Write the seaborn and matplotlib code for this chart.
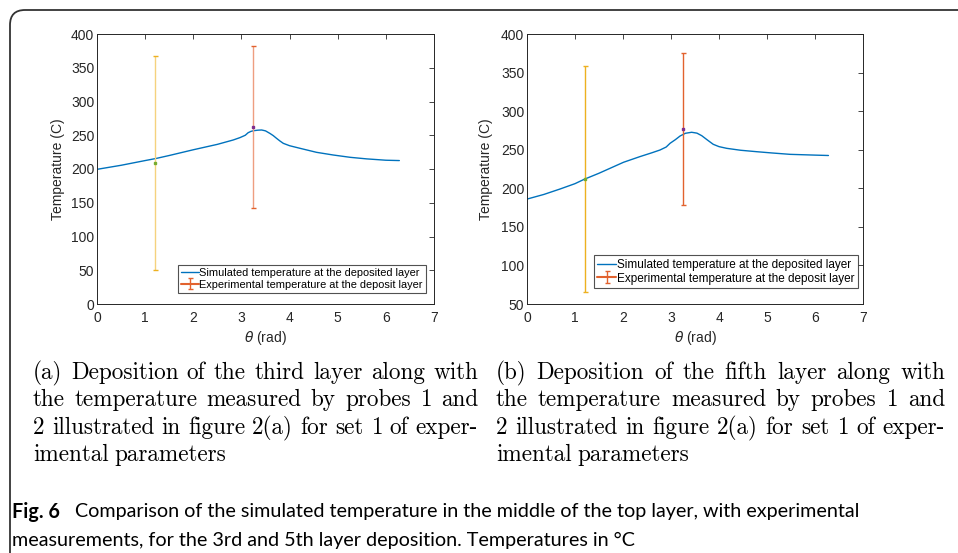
import numpy as np
import pandas as pd
import seaborn as sns
import matplotlib
matplotlib.use('Agg')
from matplotlib import pyplot as plt
from matplotlib.patches import FancyBboxPatch
from matplotlib.transforms import IdentityTransform

# (a) third layer - simulated curve
theta_a = [0.0, 0.5, 1.0, 1.22, 1.5, 2.0, 2.5, 2.83, 2.97, 3.08, 3.14, 3.2, 3.26, 3.34, 3.42,
           3.5, 3.59, 3.66, 3.73, 3.8, 3.87, 4.0, 4.22, 4.56, 4.91, 5.26, 5.6, 6.0, 6.28]
temp_a = [199.5, 205.5, 212.5, 215.5, 220, 228.5, 236.5, 243, 246.5, 250, 253.8, 255.8, 256.8, 257.5, 257.8,
          256.5, 252.8, 249.5, 245.4, 241.5, 238, 234.5, 230.6, 224.7, 220.7, 217.3, 215, 213, 212.5]

# (b) fifth layer
theta_b = [0.0, 0.35, 0.69, 1.0, 1.19, 1.5, 2.01, 2.35, 2.6, 2.77, 2.9, 2.98, 3.09, 3.19, 3.3,
           3.43, 3.54, 3.64, 3.76, 3.88, 4.0, 4.16, 4.45, 4.79, 5.1, 5.48, 6.0, 6.28]
temp_b = [186, 192, 199.1, 206, 211.6, 219.5, 233.7, 241, 246, 249.6, 253.5, 258.3, 263, 267.8, 271.3,
          272.6, 271.5, 268.2, 262.5, 257, 254, 251.8, 249.3, 247.4, 245.8, 244, 243, 242.5]

# experimental probes (centre, lower end, upper end)
probe_theta = [1.2, 3.25]
probe_a = [208.5, 262.0]
probe_a_lo = [50.0, 141.5]
probe_a_hi = [367.0, 381.5]
probe_b = [211.8, 276.6]
probe_b_lo = [65.0, 178.6]
probe_b_hi = [358.6, 375.0]

lab_sim = 'Simulated temperature at the deposited layer'
lab_exp = 'Experimental temperature at the deposit layer'

cap_a = ['(a) Deposition of the third layer along with',
         'the temperature measured by probes 1 and',
         '2 illustrated in figure 2(a) for set 1 of exper-',
         'imental parameters']
cap_b = ['(b) Deposition of the fifth layer along with',
         'the temperature measured by probes 1 and',
         '2 illustrated in figure 2(a) for set 1 of exper-',
         'imental parameters']
fig_cap1 = 'Comparison of the simulated temperature in the middle of the top layer, with experimental'
fig_cap2 = 'measurements, for the 3rd and 5th layer deposition. Temperatures in °C'

blue = '#0072BD'
orange = '#E2622E'
yellow = '#EDB120'
green = '#77AC30'
purple = '#7E2F8E'
axcol = '#262626'

sns.set_style('white')
plt.rcParams['font.family'] = ['Liberation Sans', 'DejaVu Sans']
plt.rcParams['mathtext.fontset'] = 'dejavusans'
plt.rcParams['text.color'] = 'black'

W, H = 958, 553
fig = plt.figure(figsize=(W/100, H/100), dpi=100)
ax1 = fig.add_axes([97/W, 1-304/H, 337/W, 270/H])
ax2 = fig.add_axes([527/W, 1-304/H, 336/W, 270/H])


def panel(ax, th, tp, pc, plo, phi, ylim, fs, lfs, ypad, pale, legpos):
    df = pd.DataFrame({'theta': th, 'temp': tp})
    sns.lineplot(data=df, x='theta', y='temp', ax=ax, color=blue, linewidth=1.0,
                 label=lab_sim, legend=False)
    yerr = np.array([np.array(pc) - np.array(plo), np.array(phi) - np.array(pc)])
    eb1 = ax.errorbar(probe_theta[:1], pc[:1], yerr=yerr[:, :1], fmt='-', color=yellow,
                      capsize=1.8, elinewidth=1.0, capthick=1.0)
    eb2 = ax.errorbar(probe_theta[1:], pc[1:], yerr=yerr[:, 1:], fmt='-', color=orange,
                      capsize=1.8, elinewidth=1.0, capthick=1.0, label=lab_exp)
    ax.plot(probe_theta[0], pc[0], 's', ms=1.6, color=green)
    ax.plot(probe_theta[1], pc[1], 's', ms=1.6, color=purple)
    ax.set_xlim(0, 7)
    ax.set_ylim(*ylim)
    ax.set_xticks(range(0, 8))
    ax.set_yticks(np.arange(ylim[0], ylim[1] + 1, 50))
    ax.set_xlabel(r'$\theta$ (rad)', fontsize=fs, color=axcol, labelpad=3)
    ax.set_ylabel('Temperature (C)', fontsize=fs, color=axcol, labelpad=ypad)
    ax.tick_params(direction='in', top=True, right=True, length=3.5, width=0.6,
                   labelsize=fs, colors=axcol, pad=2)
    ax.tick_params(axis='x', pad=5)
    for s in ax.spines.values():
        s.set_color(axcol)
        s.set_linewidth(0.7)
    leg = ax.legend(loc='lower right', bbox_to_anchor=legpos, borderaxespad=0,
                    fontsize=lfs, frameon=True, fancybox=False, edgecolor=axcol,
                    handlelength=1.6, handletextpad=0.05, borderpad=0.3, labelspacing=0.15)
    leg.get_frame().set_linewidth(0.8)
    for t in leg.get_texts():
        t.set_color('black')
    if pale:
        # bars are washed out in panel (a), legend handle stays saturated
        eb1[2][0].set_color('#F5D27E')
        eb2[2][0].set_color('#EE9E80')


panel(ax1, theta_a, temp_a, probe_a, probe_a_lo, probe_a_hi, (0, 400), 10.0, 7.9, 4, True, (0.976, 0.041))
panel(ax2, theta_b, temp_b, probe_b, probe_b_lo, probe_b_hi, (50, 400), 10.0, 8.5, 6, False, (0.985, 0.059))

# sub captions, LaTeX look, justified lines
renderer = fig.canvas.get_renderer()


def caption_block(lines, x0, x1, ys):
    for i, line in enumerate(lines):
        words = line.split(' ')
        texts = [fig.text(0, 1 - ys[i]/H, w, family='cmr10', fontsize=16.7, va='center', ha='left')
                 for w in words]
        widths = [t.get_window_extent(renderer).width for t in texts]
        if i < len(lines) - 1:
            gap = (x1 - x0 - sum(widths)) / (len(words) - 1)
        else:
            gap = 6.0
        x = x0
        for t, w in zip(texts, widths):
            t.set_x(x / W)
            x += w + gap


ys = [373, 400, 428, 455]
caption_block(cap_a, 33, 478, ys)
caption_block(cap_b, 496, 945, ys)

# figure caption
capfam = ['Lato', 'DejaVu Sans']
fig.text(12/W, 1 - 512/H, 'Fig. 6', family=capfam, weight='bold', fontsize=14.2, va='center')
fig.text(75/W, 1 - 512/H, fig_cap1, family=capfam, fontsize=14.2, va='center')
fig.text(12/W, 1 - 540/H, fig_cap2, family=capfam, fontsize=14.2, va='center')

# rounded frame around the figure box
frame = FancyBboxPatch((10, -80), 1200, 623, boxstyle='round,pad=0,rounding_size=15',
                       transform=IdentityTransform(), fill=False, edgecolor='#333333', lw=1.3)
fig.add_artist(frame)

fig.savefig('out.png', dpi=100)
